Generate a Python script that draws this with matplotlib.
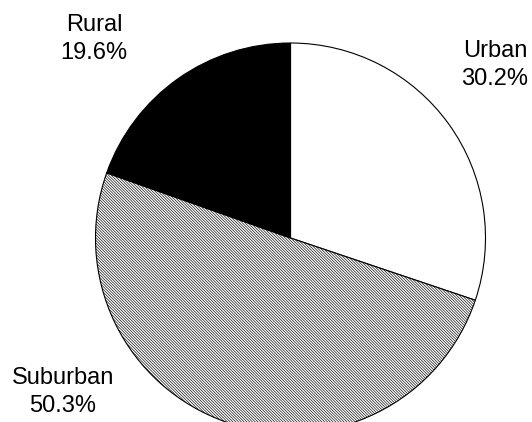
import matplotlib
matplotlib.use("Agg")
import matplotlib.pyplot as plt
import numpy as np

categories = ["Urban", "Suburban", "Rural"]
shares = [30.2, 50.3, 19.6]
label_texts = [f"{c}\n{v:.1f}%" for c, v in zip(categories, shares)]

plt.rcParams['font.family'] = ['Liberation Sans', 'DejaVu Sans']
plt.rcParams['hatch.linewidth'] = 0.45

W, H = 532, 422
fig = plt.figure(figsize=(W / 100, H / 100), dpi=100)
ax = fig.add_axes([0, 0, 1, 1])

cx, cy, r = 290.5, H - 238, 195
wedges, _ = ax.pie(shares, startangle=90, counterclock=False,
                   center=(cx, cy), radius=r, frame=True,
                   colors=['white', 'white', 'black'],
                   wedgeprops=dict(edgecolor='black', linewidth=0.8))
wedges[1].set_hatch('\\' * 12)
ax.set_xlim(0, W)
ax.set_ylim(0, H)
ax.set_aspect('equal')
ax.axis('off')

label_pos = [(495, H - 65), (63, H - 392), (94, H - 39)]
for txt, (x, y) in zip(label_texts, label_pos):
    ax.text(x, y, txt, ha='center', va='center', fontsize=17,
            linespacing=1.3, color='black')

fig.savefig('out.png', dpi=100)
